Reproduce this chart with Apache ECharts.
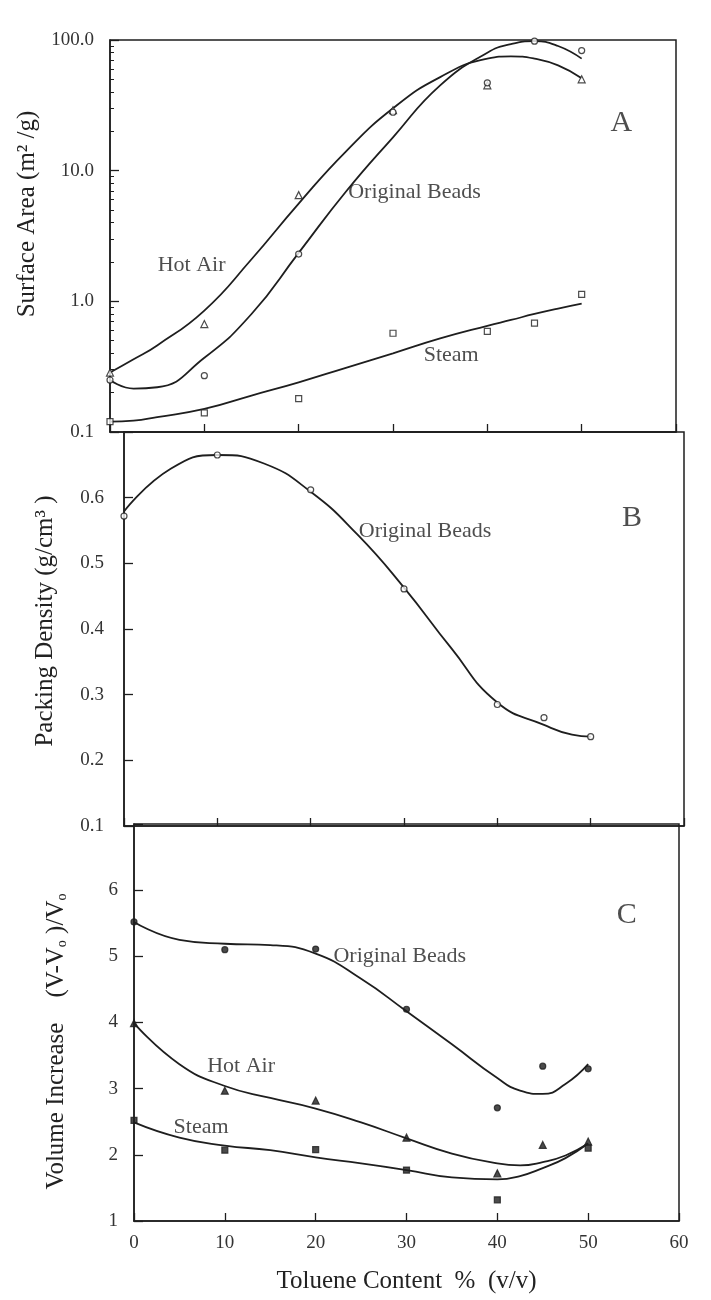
<!DOCTYPE html>
<html>
<head>
<meta charset="utf-8">
<title>Toluene content: surface area, packing density, volume increase</title>
<script src="https://cdn.jsdelivr.net/npm/echarts@6/dist/echarts.min.js"></script>
<style>
    html, body { margin: 0; padding: 0; background: #fff; }
    #chart { width: 711px; height: 1300px; }
</style>
</head>
<body>
<div id="chart"></div>
<script>
// toluene content of the samples, % (v/v)
const toluene = [0, 10, 20, 30, 40, 45, 50];

// A - surface area (m2/g), measured points
const areaOriginal = [0.25, 0.27, 2.3, 28, 47, 98, 83];
const areaHotAir = [0.285, 0.67, 6.5, 29, 45, null, 50];
const areaSteam = [0.12, 0.14, 0.18, 0.57, 0.59, 0.68, 1.13];

// A - fitted curves
const fitXA = [0, 2.5, 5, 10, 15, 20, 25, 30, 35, 40, 42.5, 45, 47.5, 50];
const fitAreaOriginal = [0.25, 0.215, 0.22, 0.37, 0.8, 2.35, 6.9, 18, 45, 80, 93, 98, 90, 72];
const fitAreaHotAir = [0.285, 0.36, 0.46, 0.85, 2.1, 5.6, 14, 30, 52, 72, 75, 72, 64, 51];
const fitAreaSteam = [0.12, 0.122, 0.13, 0.15, 0.19, 0.24, 0.31, 0.4, 0.52, 0.65, 0.72, 0.8, 0.88, 0.96];

// B - packing density (g/cm3)
const densityOriginal = [0.572, 0.665, 0.612, 0.461, 0.285, 0.265, 0.236];
const fitXB = [0, 5, 10, 15, 20, 25, 30, 35, 40, 45, 48, 50];
const fitDensityOriginal = [0.579, 0.644, 0.665, 0.652, 0.609, 0.544, 0.463, 0.372, 0.288, 0.254, 0.239, 0.236];

// C - volume increase (V-Vo)/Vo
const volOriginal = [5.52, 5.1, 5.11, 4.2, 2.71, 3.34, 3.3];
const volHotAir = [3.99, 2.97, 2.82, 2.26, 1.72, 2.15, 2.2];
const volSteam = [2.52, 2.07, 2.08, 1.77, 1.32, null, 2.1];
const fitXC = [0, 5, 10, 15, 20, 25, 30, 35, 40, 42.5, 45, 47.5, 50];
const fitVolOriginal = [5.52, 5.25, 5.19, 5.17, 5.04, 4.66, 4.17, 3.67, 3.16, 2.97, 2.92, 3.07, 3.37];
const fitVolHotAir = [3.99, 3.37, 3.04, 2.86, 2.7, 2.49, 2.25, 2.02, 1.87, 1.84, 1.89, 1.99, 2.17];
const fitVolSteam = [2.49, 2.26, 2.14, 2.07, 1.96, 1.87, 1.77, 1.66, 1.63, 1.68, 1.8, 1.95, 2.17];

// minor ticks of the log axis
const logMinorTicks = [0.2, 0.3, 0.4, 0.5, 0.6, 0.7, 0.8, 0.9, 2, 3, 4, 5, 6, 7, 8, 9, 20, 30, 40, 50, 60, 70, 80, 90];

// curve labels [x, y, text]
const notesA = [[5.0, 1.88, 'Hot Air'], [25.2, 6.84, 'Original Beads'], [33.2, 0.39, 'Steam']];
const notesB = [[25.1, 0.549, 'Original Beads']];
const notesC = [[21.9, 5.0, 'Original Beads'], [8.0, 3.34, 'Hot Air'], [4.3, 2.41, 'Steam']];
const panelA = [[53.0, 23.3, 'A']];
const panelB = [[53.3, 0.569, 'B']];
const panelC = [[53.1, 5.62, 'C']];

const INK = '#1e1e1e';
const SERIF = '"Liberation Serif", "Times New Roman", serif';

function pairs(xs, ys) {
    return xs.map((x, i) => [x, ys[i]]).filter((p) => p[1] != null);
}

function xAxisFor(gridIndex, withLabels) {
    return {
        type: 'value',
        gridIndex: gridIndex,
        min: 0,
        max: 60,
        interval: 10,
        axisLine: { show: true, lineStyle: { color: INK, width: 1.5 } },
        axisTick: { show: true, inside: true, length: 8, lineStyle: { color: INK, width: 1.3 } },
        splitLine: { show: false },
        axisLabel: {
            show: withLabels,
            margin: 13,
            color: '#333',
            fontFamily: SERIF,
            fontSize: 19,
        },
    };
}

function curve(name, xi, yi, xs, ys) {
    return {
        name: name,
        type: 'line',
        xAxisIndex: xi,
        yAxisIndex: yi,
        data: pairs(xs, ys),
        smooth: true,
        symbol: 'none',
        lineStyle: { color: INK, width: 1.8 },
        silent: true,
        z: 2,
    };
}

function points(name, xi, yi, ys, symbol, filled) {
    return {
        name: name,
        type: 'scatter',
        xAxisIndex: xi,
        yAxisIndex: yi,
        data: pairs(toluene, ys),
        symbol: symbol,
        symbolSize: symbol === 'triangle' ? 7 : 6,
        itemStyle: {
            color: filled ? INK : '#fff',
            borderColor: INK,
            borderWidth: 1.2,
        },
        silent: true,
        z: 3,
    };
}

function notes(xi, yi, data, size) {
    return {
        type: 'scatter',
        xAxisIndex: xi,
        yAxisIndex: yi,
        data: data,
        symbolSize: 1,
        itemStyle: { color: 'rgba(0,0,0,0)' },
        silent: true,
        label: {
            show: true,
            position: 'right',
            distance: 0,
            formatter: (p) => p.data[2],
            color: '#222',
            fontFamily: SERIF,
            fontSize: size,
        },
        z: 4,
    };
}

const gridBase = {
    show: true,
    borderColor: INK,
    borderWidth: 1.5,
    backgroundColor: 'transparent',
    containLabel: false,
    outerBoundsMode: 'none',
};

const tickLabel = { color: '#333', fontFamily: SERIF, fontSize: 19, margin: 16 };
const axisName = { color: '#222', fontFamily: SERIF, fontSize: 25 };

let option = {
    backgroundColor: '#fff',
    animation: false,
    grid: [
        Object.assign({ left: 110, right: 35, top: 40, height: 392 }, gridBase),
        Object.assign({ left: 124, right: 27, top: 432, height: 394 }, gridBase),
        Object.assign({ left: 134, right: 32, top: 824, height: 397 }, gridBase),
    ],
    xAxis: [
        xAxisFor(0, false),
        xAxisFor(1, false),
        Object.assign(xAxisFor(2, true), {
            name: 'Toluene Content  %  (v/v)',
            nameLocation: 'middle',
            nameGap: 48,
            nameTextStyle: Object.assign({}, axisName, { fontSize: 25 }),
        }),
    ],
    yAxis: [
        {
            type: 'log',
            logBase: 10,
            gridIndex: 0,
            min: 0.1,
            max: 100,
            name: 'Surface Area (m² /g)',
            nameLocation: 'middle',
            nameRotate: 90,
            nameGap: 61,
            nameTextStyle: Object.assign({ padding: [0, 0, 0, 44] }, axisName),
            axisLine: { show: true, lineStyle: { color: INK, width: 1.5 } },
            axisTick: { show: true, inside: true, length: 9, lineStyle: { color: INK, width: 1.3 } },
            splitLine: { show: false },
            axisLabel: Object.assign({ formatter: (v) => Number(v).toFixed(1) }, tickLabel),
        },
        {
            // minor ticks on the same log scale
            type: 'log',
            logBase: 10,
            gridIndex: 0,
            position: 'left',
            min: 0.1,
            max: 100,
            axisLine: { show: false },
            axisLabel: { show: false },
            splitLine: { show: false },
            axisTick: {
                show: true,
                inside: true,
                length: 4,
                customValues: logMinorTicks,
                lineStyle: { color: INK, width: 1 },
            },
        },
        {
            type: 'value',
            gridIndex: 1,
            min: 0.1,
            max: 0.7,
            interval: 0.1,
            name: 'Packing Density (g/cm³ )',
            nameLocation: 'middle',
            nameRotate: 90,
            nameGap: 66,
            nameTextStyle: Object.assign({ padding: [0, 0, 0, 16] }, axisName),
            axisLine: { show: true, lineStyle: { color: INK, width: 1.5 } },
            axisTick: { show: true, inside: true, length: 9, lineStyle: { color: INK, width: 1.3 } },
            splitLine: { show: false },
            axisLabel: Object.assign({ formatter: (v) => (v > 0.65 ? '' : Number(v).toFixed(1)) }, tickLabel, { margin: 20 }),
        },
        {
            type: 'value',
            gridIndex: 2,
            min: 1,
            max: 7,
            interval: 1,
            name: 'Volume Increase    (V-V{s|o} )/V{s|o}',
            nameLocation: 'middle',
            nameRotate: 90,
            nameGap: 65,
            nameTextStyle: Object.assign({
                padding: [0, 38, 0, 0],
                rich: { s: { fontFamily: SERIF, fontSize: 14, color: '#222', verticalAlign: 'bottom' } },
            }, axisName),
            axisLine: { show: true, lineStyle: { color: INK, width: 1.5 } },
            axisTick: { show: true, inside: true, length: 9, lineStyle: { color: INK, width: 1.3 } },
            splitLine: { show: false },
            axisLabel: Object.assign({ formatter: (v) => (v > 6.5 ? '' : String(v)) }, tickLabel),
        },
    ],
    series: [
        // A
        curve('Hot Air', 0, 0, fitXA, fitAreaHotAir),
        curve('Original Beads', 0, 0, fitXA, fitAreaOriginal),
        curve('Steam', 0, 0, fitXA, fitAreaSteam),
        points('Hot Air', 0, 0, areaHotAir, 'triangle', false),
        points('Original Beads', 0, 0, areaOriginal, 'circle', false),
        points('Steam', 0, 0, areaSteam, 'rect', false),
        notes(0, 0, notesA, 22),
        notes(0, 0, panelA, 30),
        // B
        curve('Original Beads', 1, 2, fitXB, fitDensityOriginal),
        points('Original Beads', 1, 2, densityOriginal, 'circle', false),
        notes(1, 2, notesB, 22),
        notes(1, 2, panelB, 30),
        // C
        curve('Original Beads', 2, 3, fitXC, fitVolOriginal),
        curve('Hot Air', 2, 3, fitXC, fitVolHotAir),
        curve('Steam', 2, 3, fitXC, fitVolSteam),
        points('Original Beads', 2, 3, volOriginal, 'circle', true),
        points('Hot Air', 2, 3, volHotAir, 'triangle', true),
        points('Steam', 2, 3, volSteam, 'rect', true),
        notes(2, 3, notesC, 22),
        notes(2, 3, panelC, 30),
    ],
};

let chart = echarts.init(document.getElementById('chart'));
chart.setOption(option);
window.addEventListener('resize', () => {
    chart.resize();
});
</script>
</body>
</html>
